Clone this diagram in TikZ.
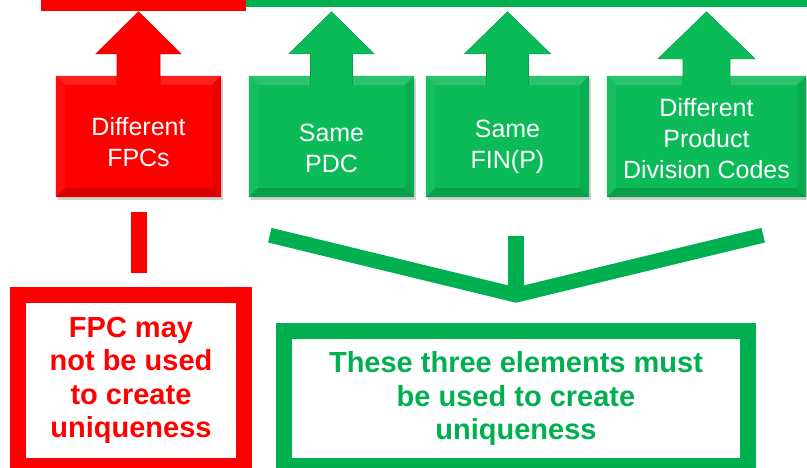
\documentclass[tikz,border=0pt]{standalone}
\usepackage{fontspec}
\setmainfont{Liberation Sans}
\usepackage{xcolor}
\usetikzlibrary{calc, shadows}
\definecolor{boxred}{RGB}{255,0,0}
\definecolor{boxgreen}{RGB}{10,187,88}
\definecolor{linegreen}{RGB}{0,176,80}
\tikzset{
    redbox/.style={rectangle, fill=boxred, minimum height=121pt, inner sep=0pt, drop shadow={shadow xshift=2pt, shadow yshift=-3pt, fill=black!35, opacity=.5}},
    greenbox/.style={redbox, fill=boxgreen},
    boxtext/.style={align=center, text=white, inner sep=0pt, font=\fontsize{25}{31}\selectfont},
    notebox/.style={rectangle, line width=16pt, align=center, inner sep=0pt, font=\bfseries\fontsize{29}{33.5}\selectfont},
    redline/.style={draw=boxred, line width=16pt},
    greenline/.style={draw=linegreen, line width=15pt, line join=miter}
}
\begin{document}
\begin{tikzpicture}[x=1pt, y=-1pt]
    \useasboundingbox (0,0) rectangle (807,467);
    \fill[boxred] (41,0) rectangle (246,11);
    \fill[linegreen] (246,0) rectangle (807,7);
    \node[redbox, minimum width=165pt] (fpc) at (138.5,136.5) {};
    \node[greenbox, minimum width=165pt] (pdc) at (331.5,136.5) {};
    \node[greenbox, minimum width=163pt] (fin) at (507.5,136.5) {};
    \node[greenbox, minimum width=199pt] (div) at (706.5,136.5) {};
    \foreach \n/\c in {fpc/boxred, pdc/boxgreen, fin/boxgreen, div/boxgreen} {
        \fill[\c!88!white] (\n.north west) -- (\n.north east) -- ($(\n.north east)+(-9,9)$) -- ($(\n.north west)+(9,9)$) -- cycle;
        \fill[\c!95!white] (\n.north west) -- ($(\n.north west)+(9,9)$) -- ($(\n.south west)+(9,-9)$) -- (\n.south west) -- cycle;
        \fill[\c!92!black] (\n.north east) -- ($(\n.north east)+(-9,9)$) -- ($(\n.south east)+(-9,-9)$) -- (\n.south east) -- cycle;
        \fill[\c!85!black] (\n.south west) -- ($(\n.south west)+(9,-9)$) -- ($(\n.south east)+(-9,-9)$) -- (\n.south east) -- cycle;
    }
    \foreach \n/\c/\sw/\hw/\hh in {fpc/boxred/21.5/42.5/42, pdc/boxgreen/21/42.5/42, fin/boxgreen/21/43/42, div/boxgreen/23.5/48.5/47}
        \filldraw[fill=\c, draw=\c!85!black, line width=.6pt] ($(\n.north)+(-\sw,9)$) -- ($(\n.north)+(-\sw,\hh-64)$) -- ($(\n.north)+(-\hw,\hh-64)$) -- ($(\n.north)+(0,-64)$) -- ($(\n.north)+(\hw,\hh-64)$) -- ($(\n.north)+(\sw,\hh-64)$) -- ($(\n.north)+(\sw,9)$);
    \node[boxtext] (fpclabel) at ($(fpc.center)+(0,6)$) {Different\\FPCs};
    \node[boxtext] (pdclabel) at ($(pdc.center)+(0,12)$) {Same\\PDC};
    \node[boxtext] (finlabel) at ($(fin.center)+(0,10)$) {Same\\FIN(P)};
    \node[boxtext] (divlabel) at ($(div.center)+(0,2)$) {Different\\Product\\Division Codes};
    \node[notebox, draw=boxred, text=boxred, minimum width=226pt, minimum height=171pt] (fpcnote) at (131,380.5) {FPC may\\not be used\\to create\\uniqueness};
    \node[notebox, draw=linegreen, text=linegreen, minimum width=464pt, minimum height=135pt] (mustnote) at (516,398.5) {These three elements must\\be used to create\\uniqueness};
    \draw[redline] ($(fpc.south)+(0,15)$) -- ($(fpcnote.north -| fpc.south)+(0,-14)$);
    \coordinate (vtip) at ($(mustnote.north)+(0,-28)$);
    \coordinate (vleft) at ($(pdc.south west)+(21,38)$);
    \coordinate (vright) at ($(div.south east)+(-43,38)$);
    \draw[greenline] (vleft) -- (vtip) -- (vright);
    \draw[greenline, line width=16pt] ($(fin.south -| vtip)+(0,39)$) -- (vtip);
\end{tikzpicture}
\end{document}
